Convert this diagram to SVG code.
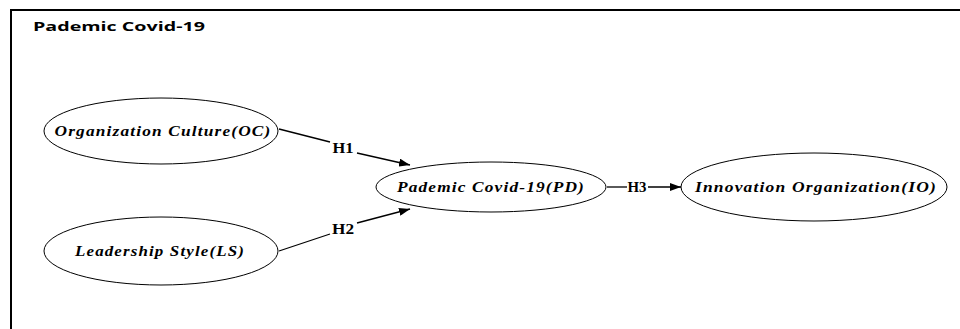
<svg xmlns="http://www.w3.org/2000/svg" width="960" height="329" viewBox="0 0 960 329">
<style>
.node ellipse{fill:#fff;stroke:#000;stroke-width:1}
.node text{font-family:"Liberation Serif","Times New Roman",serif;font-weight:bold;font-style:italic;font-size:15px;text-anchor:middle;letter-spacing:1px}
.lbl{font-family:"Liberation Serif","Times New Roman",serif;font-weight:bold;font-size:14px;text-anchor:middle}
.edge{stroke:#000;stroke-width:1.3;fill:none}
</style>
<defs>
<marker id="arr" markerWidth="11" markerHeight="8" refX="11" refY="4" orient="auto" markerUnits="userSpaceOnUse">
<path d="M0,0 L11,4 L0,8 Z" fill="#000"/>
</marker>
</defs>
<rect width="960" height="329" fill="#fff"/>
<g id="frame">
<path d="M11,329 V10 H960" fill="none" stroke="#000" stroke-width="2"/>
<text x="33" y="31" font-family="Open Sans, Liberation Sans, sans-serif" font-weight="bold" font-size="13" textLength="172" lengthAdjust="spacingAndGlyphs">Pademic Covid-19</text>
</g>
<g id="connectors">
<path class="edge" d="M279,129 L330,142"/>
<path class="edge" d="M357,153 L410,165" marker-end="url(#arr)"/>
<path class="edge" d="M279,251 L330,234"/>
<path class="edge" d="M357,223 L410,209" marker-end="url(#arr)"/>
<path class="edge" d="M607,187 L627,187"/>
<path class="edge" d="M648,187 L681,187" marker-end="url(#arr)"/>
<text class="lbl" x="343" y="153" textLength="21" lengthAdjust="spacingAndGlyphs">H1</text>
<text class="lbl" x="343" y="234" textLength="22" lengthAdjust="spacingAndGlyphs">H2</text>
<text class="lbl" x="637" y="192" textLength="19" lengthAdjust="spacingAndGlyphs">H3</text>
</g>
<g id="OC" class="node">
<ellipse cx="161" cy="131" rx="117" ry="33"/>
<text x="163" y="136" textLength="217" lengthAdjust="spacingAndGlyphs">Organization Culture(OC)</text>
</g>
<g id="LS" class="node">
<ellipse cx="161" cy="251" rx="117" ry="34"/>
<text x="160" y="256" textLength="170" lengthAdjust="spacingAndGlyphs">Leadership Style(LS)</text>
</g>
<g id="PD" class="node">
<ellipse cx="491" cy="187" rx="115" ry="25"/>
<text x="491" y="192" textLength="188" lengthAdjust="spacingAndGlyphs">Pademic Covid-19(PD)</text>
</g>
<g id="IO" class="node">
<ellipse cx="814" cy="187" rx="133" ry="34"/>
<text x="816" y="192" textLength="242" lengthAdjust="spacingAndGlyphs">Innovation Organization(IO)</text>
</g>
</svg>
